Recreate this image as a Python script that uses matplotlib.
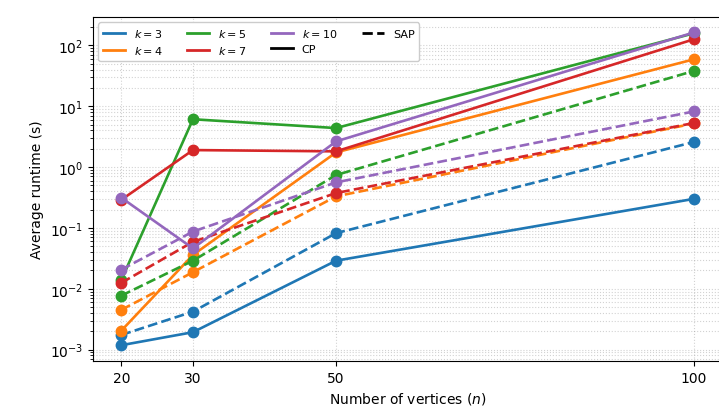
import numpy as np
import matplotlib
matplotlib.use("Agg")
import matplotlib.pyplot as plt
from matplotlib.lines import Line2D

# numero de vertices
n_vals = [20, 30, 50, 100]
ks = [3, 4, 5, 7, 10]
colores = ['tab:blue', 'tab:orange', 'tab:green', 'tab:red', 'tab:purple']

# tiempos promedio (s), CP = linea solida, SAP = linea discontinua
cp_k3 = [0.00118, 0.00193, 0.0289, 0.30]
cp_k4 = [0.00205, 0.0359, 1.74, 59]
cp_k5 = [0.0140, 6.1, 4.37, 158]
cp_k7 = [0.29, 1.9, 1.81, 126]
cp_k10 = [0.313, 0.046, 2.64, 163]

sap_k3 = [0.00174, 0.0042, 0.082, 2.58]
sap_k4 = [0.0045, 0.0187, 0.33, 5.2]
sap_k5 = [0.0077, 0.0289, 0.74, 38]
sap_k7 = [0.0125, 0.059, 0.374, 5.3]
sap_k10 = [0.0206, 0.087, 0.56, 8.2]

cp = [cp_k3, cp_k4, cp_k5, cp_k7, cp_k10]
sap = [sap_k3, sap_k4, sap_k5, sap_k7, sap_k10]

fig = plt.figure(figsize=(7.19, 4.14), dpi=100)
ax = fig.add_axes([0.129, 0.126, 0.876, 0.831])

for i in range(len(ks)):
    ax.plot(n_vals, cp[i], color=colores[i], linestyle='-', marker='o', lw=1.9, ms=7.5)
    ax.plot(n_vals, sap[i], color=colores[i], linestyle='--', marker='o', lw=1.9, ms=7.5)

ax.set_yscale('log')
ax.set_xticks(n_vals)
ax.set_xticklabels([str(n) for n in n_vals])
ax.set_xlabel('Number of vertices ($n$)', fontsize=10)
ax.set_ylabel('Average runtime (s)', fontsize=10)
ax.grid(True, which='both', linestyle=':', color='gray', alpha=0.35, lw=0.8)

handles = [Line2D([0], [0], color=colores[i], lw=2, label='$k = %d$' % ks[i]) for i in range(len(ks))]
handles.append(Line2D([0], [0], color='black', lw=2, linestyle='-', label='CP'))
handles.append(Line2D([0], [0], color='black', lw=2, linestyle='--', label='SAP'))
ax.legend(handles=handles, loc='upper left', ncol=4, fontsize=8, framealpha=1.0,
          columnspacing=2.2)

fig.savefig('out.png', dpi=100)
